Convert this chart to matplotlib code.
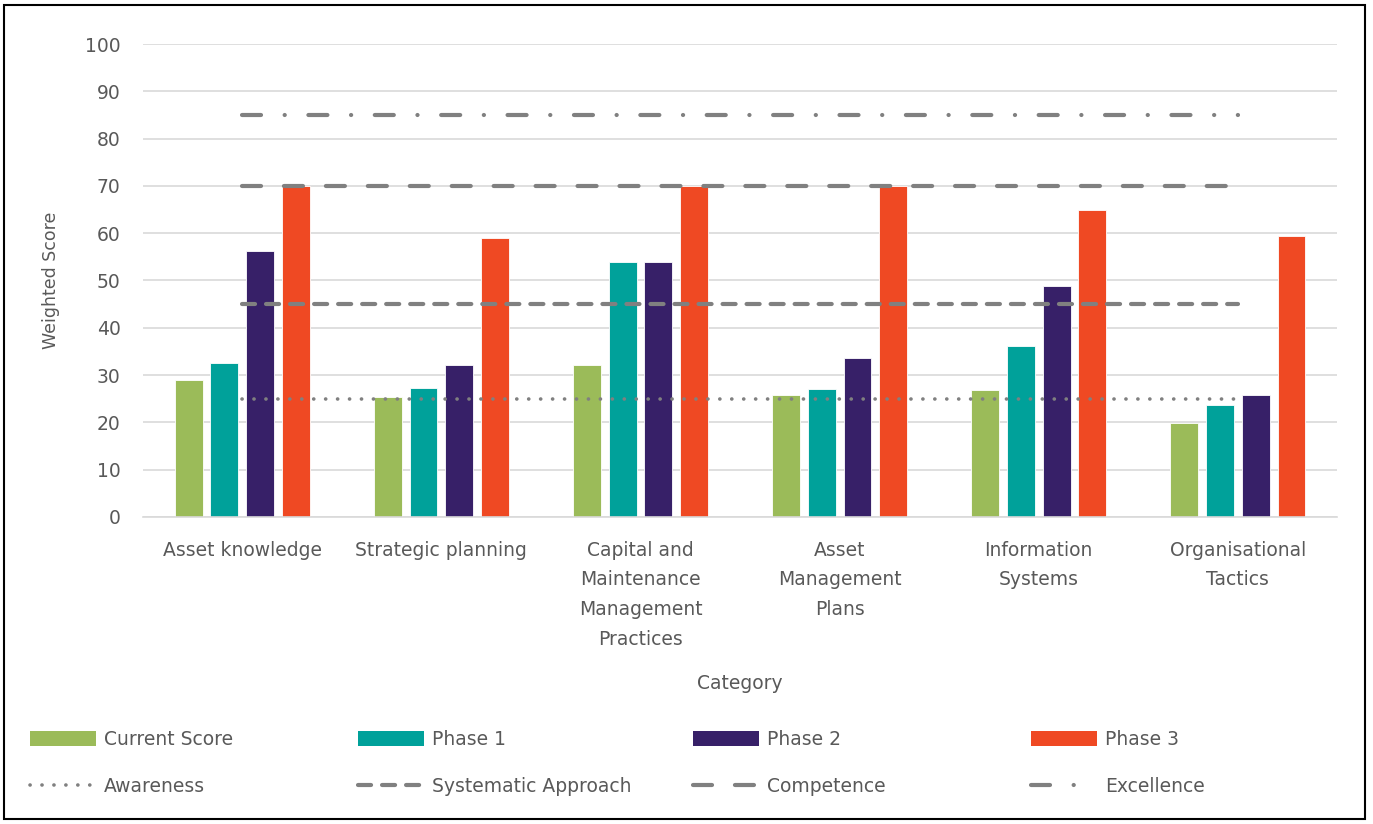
import numpy as np
import matplotlib
matplotlib.use("Agg")
import matplotlib.pyplot as plt
from matplotlib.patches import Patch, Rectangle
from matplotlib.lines import Line2D

plt.rcParams["font.family"] = ["DejaVu Sans"]
plt.rcParams["lines.scale_dashes"] = False

categories = [
    "Asset knowledge",
    "Strategic planning",
    "Capital and\nMaintenance\nManagement\nPractices",
    "Asset\nManagement\nPlans",
    "Information\nSystems",
    "Organisational\nTactics",
]

current_score = [29.0, 25.4, 32.1, 25.8, 26.8, 19.8]
phase_1 = [32.6, 27.3, 53.9, 27.1, 36.2, 23.7]
phase_2 = [56.2, 32.1, 53.9, 33.6, 48.9, 25.8]
phase_3 = [70.0, 59.0, 70.0, 70.0, 65.0, 59.4]

awareness = [25] * 6
systematic = [45] * 6
competence = [70] * 6
excellence = [85] * 6

bar_series = [
    ("Current Score", current_score, "#9bbb59"),
    ("Phase 1", phase_1, "#00a19a"),
    ("Phase 2", phase_2, "#372068"),
    ("Phase 3", phase_3, "#ef4923"),
]

GREY = "#808080"
TEXT = "#595959"
line_series = [
    ("Awareness", awareness, 2.6, (0, (0.1, 8.5))),
    ("Systematic Approach", systematic, 3.0, (0, (9.4, 7.9))),
    ("Competence", competence, 3.0, (0, (13.7, 16.5))),
    ("Excellence", excellence, 3.0, (0, (13.7, 17.0, 0.1, 17.0))),
]

fig = plt.figure(figsize=(13.73, 8.24), dpi=100)
ax = fig.add_axes([0.104, 0.3726, 0.870, 0.574])

x = np.arange(len(categories))
width = 0.14
step = 0.18
bar_handles = []
for i, (name, vals, color) in enumerate(bar_series):
    ax.bar(x + (i - 1.5) * step, vals, width, color=color, label=name,
           edgecolor="white", linewidth=0.6, zorder=2)
    bar_handles.append(Patch(facecolor=color, label=name))

line_handles = []
for name, vals, lw, ls in line_series:
    ax.plot(x, vals, color=GREY, linewidth=lw, linestyle=ls,
            dash_capstyle="round", solid_capstyle="round", zorder=3)
    line_handles.append(Line2D([0], [0], color=GREY, linewidth=lw, linestyle=ls,
                               dash_capstyle="round", label=name))

ax.set_xlim(-0.5, len(categories) - 0.5)
ax.set_ylim(0, 100)
ax.set_yticks(range(0, 101, 10))
ax.set_xticks(x)
ax.set_xticklabels(categories, linespacing=1.72, fontsize=13.5, color=TEXT, va="top")
ax.tick_params(axis="y", labelsize=13.5, labelcolor=TEXT, length=0, pad=16)
ax.tick_params(axis="x", length=0, pad=17)
ax.grid(axis="y", color="#d9d9d9", linewidth=1.2, zorder=0)
ax.set_axisbelow(True)
for side in ["top", "right", "left"]:
    ax.spines[side].set_visible(False)
ax.spines["bottom"].set_color("#d9d9d9")
ax.spines["bottom"].set_linewidth(1.2)

ax.set_ylabel("Weighted Score", fontsize=12.5, color=TEXT, labelpad=18)
fig.text(0.539, 0.171, "Category", fontsize=13.5, color=TEXT, ha="center", va="center")

# legend: four columns, bars on the first row and reference lines on the second
col_x = [0.022, 0.261, 0.505, 0.751]
for cx, bh, lh in zip(col_x, bar_handles, line_handles):
    fig.legend(handles=[bh, lh], loc="upper left", bbox_to_anchor=(cx, 0.114),
               bbox_transform=fig.transFigure, frameon=False, fontsize=13.5,
               labelcolor=TEXT, handlelength=3.5, handleheight=0.8,
               handletextpad=0.45, labelspacing=1.5, borderaxespad=0,
               borderpad=0)

# outer frame
fig.add_artist(Rectangle((0.003, 0.006), 0.991, 0.988, transform=fig.transFigure,
                         fill=False, edgecolor="black", linewidth=1.5))

fig.savefig("out.png", dpi=100)
